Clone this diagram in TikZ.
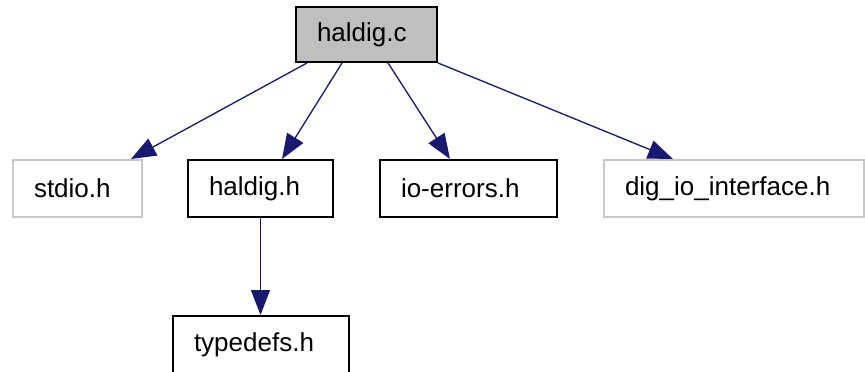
\documentclass[tikz,border=0pt]{standalone}
\usepackage{fontspec}
\setmainfont{Liberation Sans}
\usetikzlibrary{arrows.meta}
\definecolor{edgeblue}{RGB}{25,25,112}
\definecolor{boxgray}{RGB}{191,191,191}
\definecolor{sysgray}{RGB}{200,200,200}

\begin{document}
\begin{tikzpicture}[
  file/.style={draw=black, line width=1.1pt, inner xsep=0.42cm, inner ysep=0pt,
    minimum height=1.14cm, align=left, font=\fontsize{14.8}{17}\selectfont},
  sysfile/.style={file, draw=sysgray},
  dep/.style={edgeblue, line width=0.75pt, -{Triangle[length=0.5cm,width=0.38cm]}}
]
\useasboundingbox (0,0) rectangle (17.3,7.42);
% draw the source file
\node[file, fill=boxgray, text width=1.98cm, minimum height=1.10cm] (haldigc) at (7.33,6.73) {haldig.c};
% draw the included headers
\node[sysfile, text width=1.74cm] (stdio) at (1.55,3.65) {stdio.h};
\node[file, text width=2.06cm] (haldigh) at (5.21,3.65) {haldig.h};
\node[file, text width=2.70cm] (ioerrors) at (9.37,3.65) {io-errors.h};
\node[sysfile, text width=4.36cm] (digio) at (14.68,3.65) {dig\_io\_interface.h};
\node[file, text width=2.68cm] (typedefs) at (5.22,0.53) {typedefs.h};
% draw the include arrows
\draw[dep] ([xshift=0.24cm]haldigc.south west) -- ([xshift=-0.24cm]stdio.north east);
\draw[dep] ([xshift=0.94cm]haldigc.south west) -- ([xshift=0.43cm]haldigh.north);
\draw[dep] ([xshift=0.43cm]haldigc.south) -- ([xshift=-0.37cm]ioerrors.north);
\draw[dep] (haldigc.south east) -- ([xshift=-1.22cm]digio.north);
\draw[dep] (haldigh.south) -- (haldigh.south |- typedefs.north);
\end{tikzpicture}
\end{document}
